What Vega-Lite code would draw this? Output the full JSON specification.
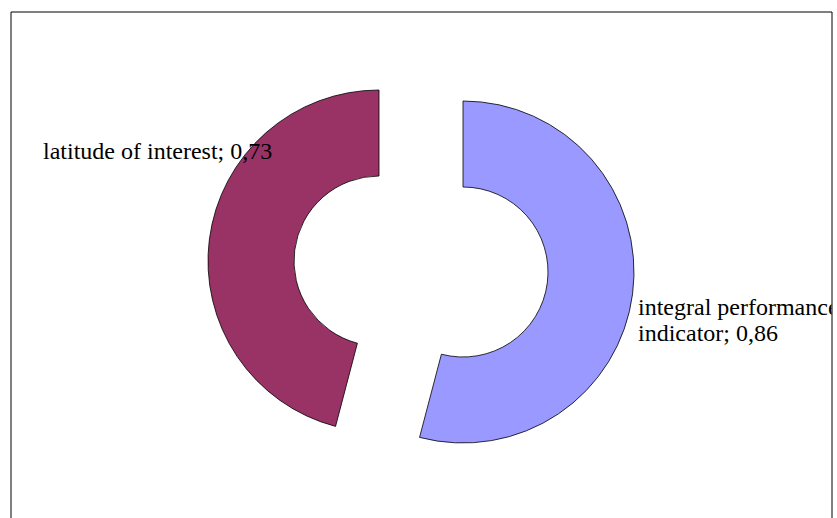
{
  "$schema": "https://vega.github.io/schema/vega-lite/v6.json",
  "width": 821,
  "height": 507,
  "autosize": "none",
  "padding": {"left": 10.5, "top": 11.5, "right": 5.5, "bottom": 0},
  "background": "white",
  "view": {"stroke": "black", "strokeWidth": 1},
  "data": {
    "values": [
      {"category": "integral performance indicator", "value": 0.86, "label": "integral performance\nindicator; 0,86"},
      {"category": "latitude of interest", "value": 0.73, "label": "latitude of interest; 0,73"}
    ]
  },
  "transform": [
    {"stack": "value", "groupby": [], "sort": [{"field": "category", "order": "ascending"}], "as": ["v0", "v1"]}
  ],
  "layer": [
    {
      "transform": [{"filter": "datum.category == 'integral performance indicator'"}],
      "mark": {"type": "arc", "radius": 171, "radius2": 85, "stroke": "black", "strokeWidth": 0.8, "x": {"expr": "width/2 + 42"}, "y": {"expr": "height/2 + 7"}},
      "encoding": {
        "theta": {"field": "v0", "type": "quantitative", "scale": {"domain": [0, 1.59], "range": [0, 6.2832]}},
        "theta2": {"field": "v1"},
        "color": {"value": "#9999FF"}
      }
    },
    {
      "transform": [{"filter": "datum.category == 'latitude of interest'"}],
      "mark": {"type": "arc", "radius": 171, "radius2": 85, "stroke": "black", "strokeWidth": 0.8, "x": {"expr": "width/2 - 42"}, "y": {"expr": "height/2 - 4"}},
      "encoding": {
        "theta": {"field": "v0", "type": "quantitative", "scale": {"domain": [0, 1.59], "range": [0, 6.2832]}},
        "theta2": {"field": "v1"},
        "color": {"value": "#993366"}
      }
    },
    {
      "transform": [{"filter": "datum.category == 'latitude of interest'"}],
      "mark": {"type": "text", "font": "Liberation Serif", "fontSize": 24, "color": "black", "align": "left", "baseline": "alphabetic", "clip": true, "x": {"expr": "width/2 - 378"}, "y": {"expr": "height/2 - 106"}},
      "encoding": {"text": {"field": "label"}}
    },
    {
      "transform": [{"filter": "datum.category == 'integral performance indicator'"}],
      "mark": {"type": "text", "font": "Liberation Serif", "fontSize": 24, "color": "black", "align": "left", "baseline": "alphabetic", "lineBreak": "\n", "lineHeight": 25.5, "clip": true, "x": {"expr": "width/2 + 217"}, "y": {"expr": "height/2 + 50"}},
      "encoding": {"text": {"field": "label"}}
    }
  ]
}
